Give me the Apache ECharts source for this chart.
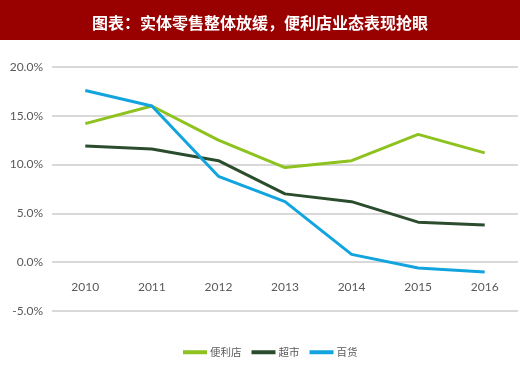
<!DOCTYPE html>
<html><head><meta charset="utf-8">
<script src="https://cdn.jsdelivr.net/npm/echarts@6/dist/echarts.min.js"></script>
<style>html,body{margin:0;padding:0;background:#fff;}#c{width:520px;height:371px;}</style>
</head><body><div id="c"></div>
<script>
const titleText = '图表：实体零售整体放缓，便利店业态表现抢眼';
const years = ['2010','2011','2012','2013','2014','2015','2016'];
const conv = [14.2, 16.0, 12.5, 9.7, 10.4, 13.1, 11.2];   // 便利店
const superm = [11.9, 11.6, 10.4, 7.0, 6.2, 4.1, 3.8];   // 超市
const dept = [17.6, 16.0, 8.8, 6.2, 0.8, -0.6, -1.0];    // 百货
const seriesNames = ['便利店', '超市', '百货'];
const colors = ['#8dc21f', '#2b4d2e', '#12a4de'];

const chart = echarts.init(document.getElementById('c'));
const lineSeries = [conv, superm, dept].map((d, i) => ({
  name: seriesNames[i], type: 'line', data: d, symbol: 'none',
  lineStyle: { width: 3, color: colors[i] }, itemStyle: { color: colors[i] }
}));
chart.setOption({
  animation: false,
  graphic: [{ type: 'rect', left: 0, top: 0, shape: { width: 520, height: 40 }, style: { fill: '#990000' }, z: -1 }],
  title: { text: titleText, left: 'center', top: 10,
    textStyle: { color: '#ffffff', fontSize: 16, fontWeight: 'bold', fontFamily: 'Noto Sans CJK SC' } },
  grid: { left: 52, right: 2, top: 67, bottom: 60 },
  legend: { top: 347, left: 183, icon: 'rect', itemWidth: 24, itemHeight: 4, itemGap: 10, padding: 0,
    textStyle: { color: '#595959', fontSize: 10.5, fontFamily: 'Noto Sans CJK SC', padding: [0,0,0,-2] },
    data: seriesNames },
  xAxis: { type: 'category', data: years, boundaryGap: true, position: 'bottom', offset: -49,
    axisLine: { show: false, onZero: false }, axisTick: { show: false },
    axisLabel: { color: '#595959', fontSize: 12, margin: 19, fontFamily: 'Lato, Liberation Sans, sans-serif' } },
  yAxis: { type: 'value', min: -5, max: 20, interval: 5,
    axisLabel: { color: '#595959', fontSize: 12, margin: 9, fontFamily: 'Lato, Liberation Sans, sans-serif',
      formatter: v => v.toFixed(1) + '%' },
    splitLine: { lineStyle: { color: '#d9d9d9', width: 2 } },
    axisLine: { show: false }, axisTick: { show: false } },
  series: lineSeries
});
</script></body></html>
